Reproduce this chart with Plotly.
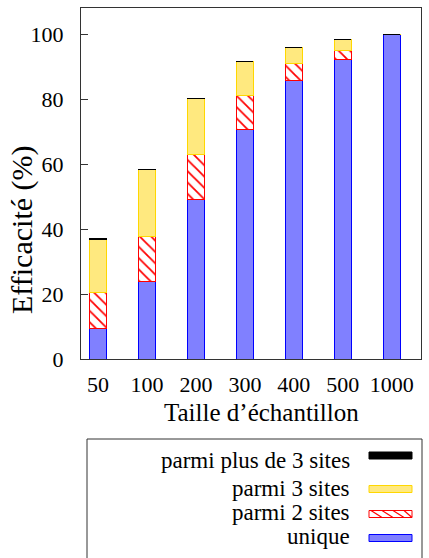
import plotly.graph_objects as go

# ---- data ----
tailles = ["50", "100", "200", "300", "400", "500", "1000"]
unique = [9.5, 23.8, 49.2, 70.5, 85.8, 92.2, 99.7]
deux_sites = [10.9, 14.0, 13.6, 10.6, 5.2, 2.7, 0.0]
trois_sites = [16.5, 20.4, 17.4, 10.5, 4.9, 3.4, 0.2]
plus_de_trois = [0.3, 0.0, 0.0, 0.0, 0.0, 0.0, 0.0]

series_names = ["unique", "parmi 2 sites", "parmi 3 sites", "parmi plus de 3 sites"]

W, H = 429, 558
L, R, T, B = 81, 8, 8, 199
PW, PH = W - L - R, H - T - B

def px(x):
    return (x - L) / PW

def py(y):
    return (H - B - y) / PH

FONT = "Liberation Serif"
xpos = list(range(len(tailles)))
bw = 0.35

fig = go.Figure()
fig.add_trace(go.Bar(
    x=xpos, y=unique, width=bw, name=series_names[0],
    marker=dict(color="#8080ff", line=dict(color="#0000ff", width=1)),
))
fig.add_trace(go.Bar(
    x=xpos, y=deux_sites, width=bw, name=series_names[1],
    marker=dict(color="#ffffff", line=dict(color="#ff0000", width=1),
                pattern=dict(shape="\\", fgcolor="#ff0000", bgcolor="#ffffff",
                             size=8, solidity=0.22, fillmode="replace")),
))
fig.add_trace(go.Bar(
    x=xpos, y=trois_sites, width=bw, name=series_names[2],
    marker=dict(color="#ffe97f", line=dict(color="#ffd700", width=1)),
))
fig.add_trace(go.Bar(
    x=xpos, y=plus_de_trois, width=bw, name=series_names[3],
    marker=dict(color="#000000", line=dict(color="#000000", width=1)),
))

axis_common = dict(showline=True, linecolor="#333333", linewidth=1, mirror=True,
                   showgrid=False, zeroline=False, automargin=False,
                   tickfont=dict(family=FONT, size=22, color="#000000"))

fig.update_layout(
    width=W, height=H,
    margin=dict(l=L, r=R, t=T, b=B, autoexpand=False),
    barmode="stack",
    showlegend=False,
    plot_bgcolor="#ffffff", paper_bgcolor="#ffffff",
    xaxis=dict(range=[-0.35, 6.6], tickvals=xpos, ticktext=tailles,
               ticks="", ticklabelstandoff=6, **axis_common),
    yaxis=dict(range=[0, 108], tickvals=[0, 20, 40, 60, 80, 100],
               ticks="inside", ticklen=7, tickcolor="#333333",
               ticklabelstandoff=12, **axis_common),
)

# axis titles
fig.add_annotation(text="Efficacité (%)", x=px(22), y=py(230), xref="paper", yref="paper",
                   textangle=-90, showarrow=False, xanchor="center", yanchor="middle",
                   font=dict(family=FONT, size=30, color="#000000"))
fig.add_annotation(text="Taille d’échantillon", x=px(261), y=py(413), xref="paper", yref="paper",
                   showarrow=False, xanchor="center", yanchor="middle",
                   font=dict(family=FONT, size=25, color="#000000"))

# legend box
fig.add_shape(type="rect", xref="paper", yref="paper",
              x0=px(87), x1=px(422), y0=py(439), y1=py(580),
              line=dict(color="#333333", width=1), fillcolor="rgba(0,0,0,0)")

# (name, text centre y, swatch centre y, fill, outline)
legend_rows = [
    (series_names[3], 460.5, 455.5, "#000000", "#000000"),
    (series_names[2], 488, 489, "#ffe97f", "#ffd700"),
    (series_names[1], 512, 514, "#ffffff", "#ff0000"),
    (series_names[0], 536, 538, "#8080ff", "#0000ff"),
]
sx0, sx1 = 369, 412
for name, ty, yc, fill, line in legend_rows:
    fig.add_annotation(text=name, x=px(352), y=py(ty), xref="paper", yref="paper",
                       showarrow=False, xanchor="right", yanchor="middle",
                       font=dict(family=FONT, size=23, color="#000000"))
    fig.add_shape(type="rect", xref="paper", yref="paper",
                  x0=px(sx0), x1=px(sx1), y0=py(yc - 3.5), y1=py(yc + 3.5),
                  line=dict(color=line, width=1), fillcolor=fill)
    if name == series_names[1]:
        for k in range(4):
            xa = sx0 + 2 + k * 11
            xb = min(xa + 11, sx1)
            fig.add_shape(type="line", xref="paper", yref="paper",
                          x0=px(xa), x1=px(xb), y0=py(yc - 3.5), y1=py(yc + 3.5),
                          line=dict(color="#ff0000", width=1.2))

fig.write_html("out.html", config={"displayModeBar": False},
               post_script="document.body.style.margin='0';document.body.style.padding='0';")
